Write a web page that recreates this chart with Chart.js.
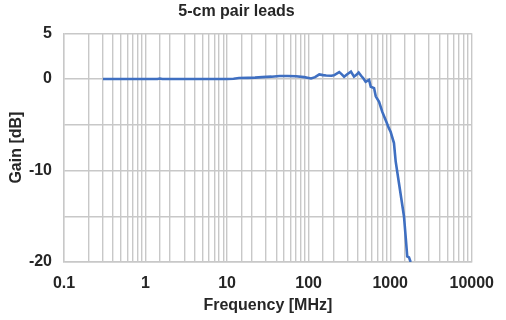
<!DOCTYPE html>
<html>
<head>
<meta charset="utf-8">
<script src="https://cdn.jsdelivr.net/npm/chart.js@4.4.1/dist/chart.umd.min.js"></script>
<style>
  html, body { margin: 0; padding: 0; background: #ffffff; }
  #wrap { width: 506px; height: 320px; }
</style>
</head>
<body>
<div id="wrap"><canvas id="c" width="506" height="320"></canvas></div>
<script>
'use strict';

// ── Datos ─────────────────────────────────────────────────────────────────────

const freqMHz = [
  0.3, 0.5, 0.8, 1.0, 1.4, 1.5, 1.6, 2, 3, 5, 8, 10, 12, 14, 18, 22, 27, 35,
  44, 55, 70, 88, 100, 107, 120, 135, 150, 164, 190, 204, 237, 255, 272, 300,
  330, 360, 385, 410, 440, 470, 500, 551, 578, 634, 665, 730, 800, 881, 966,
  1014, 1112, 1167, 1281, 1475, 1546, 1618, 1700, 1780,
];
const gainDb = [
  0, 0, 0, 0, 0, 0.05, 0, 0, 0, 0, 0, 0, 0.02, 0.1, 0.12, 0.15, 0.2, 0.25,
  0.32, 0.33, 0.3, 0.2, 0.1, 0.05, 0.2, 0.5, 0.42, 0.38, 0.35, 0.4, 0.75, 0.5,
  0.25, 0.55, 0.8, 0.25, 0.45, 0.7, 0.35, 0.05, -0.3, -0.1, -0.85, -1.0, -1.9,
  -2.5, -3.6, -4.5, -5.4, -5.8, -7.0, -9.0, -11.4, -15.0, -17.2, -19.4, -19.5, -20,
];
const xMin = 0.1, xMax = 10000;
const yMin = -20, yMax = 5;
const yLabels = [5, 0, -10, -20];
const xLabels = [0.1, 1, 10, 100, 1000, 10000];

const chartTitle = '5-cm pair leads';
const xTitle = 'Frequency [MHz]';
const yTitle = 'Gain [dB]';

// ── Estilo ────────────────────────────────────────────────────────────────────

const FONT = 'Liberation Sans, Arial, sans-serif';
const TEXT = '#262626';
const GRID = '#c8c8c8';
const LINE = '#3f6fc1';

const isPow10 = v => xLabels.some(p => Math.abs(v - p) / p < 1e-6);

// '' (no null) para que la línea de grilla se mantenga
new Chart(document.getElementById('c'), {
  type: 'line',
  data: {
    datasets: [{
      data: freqMHz.map((f, i) => ({ x: f, y: gainDb[i] })),
      borderColor: LINE,
      borderWidth: 2.6,
      pointRadius: 0,
      tension: 0,
      fill: false,
    }],
  },
  options: {
    responsive: false,
    animation: false,
    devicePixelRatio: 1,
    layout: { padding: { left: 0, right: 33, top: 0, bottom: 0 } },
    plugins: {
      legend: { display: false },
      tooltip: { enabled: false },
      title: {
        display: true,
        text: chartTitle,
        color: TEXT,
        font: { family: FONT, size: 16, weight: 'bold' },
        padding: { top: 2, bottom: 12 },
      },
    },
    scales: {
      x: {
        type: 'logarithmic',
        min: xMin,
        max: xMax,
        afterFit: s => { s.height = 58; },
        grid: { color: GRID, lineWidth: 1.4, drawTicks: false },
        border: { color: GRID, width: 1.4 },
        ticks: {
          autoSkip: false,
          maxRotation: 0,
          padding: 12,
          color: TEXT,
          font: { family: FONT, size: 16, weight: 'bold' },
          callback: v => isPow10(v) ? String(v) : '',
        },
        title: {
          display: true,
          text: xTitle,
          color: TEXT,
          font: { family: FONT, size: 16, weight: 'bold' },
          padding: { top: 0, bottom: 5 },
        },
      },
      y: {
        min: yMin,
        max: yMax,
        afterFit: s => { s.width = 64; },
        grid: { color: GRID, lineWidth: 1.4, drawTicks: false },
        border: { color: GRID, width: 1.4 },
        ticks: {
          stepSize: 5,
          padding: 12,
          color: TEXT,
          font: { family: FONT, size: 16, weight: 'bold' },
          callback: v => yLabels.includes(v) ? String(v) : '',
        },
        title: {
          display: true,
          text: yTitle,
          color: TEXT,
          font: { family: FONT, size: 16, weight: 'bold' },
          padding: { top: 7, bottom: 0 },
        },
      },
    },
  },
});
</script>
</body>
</html>
